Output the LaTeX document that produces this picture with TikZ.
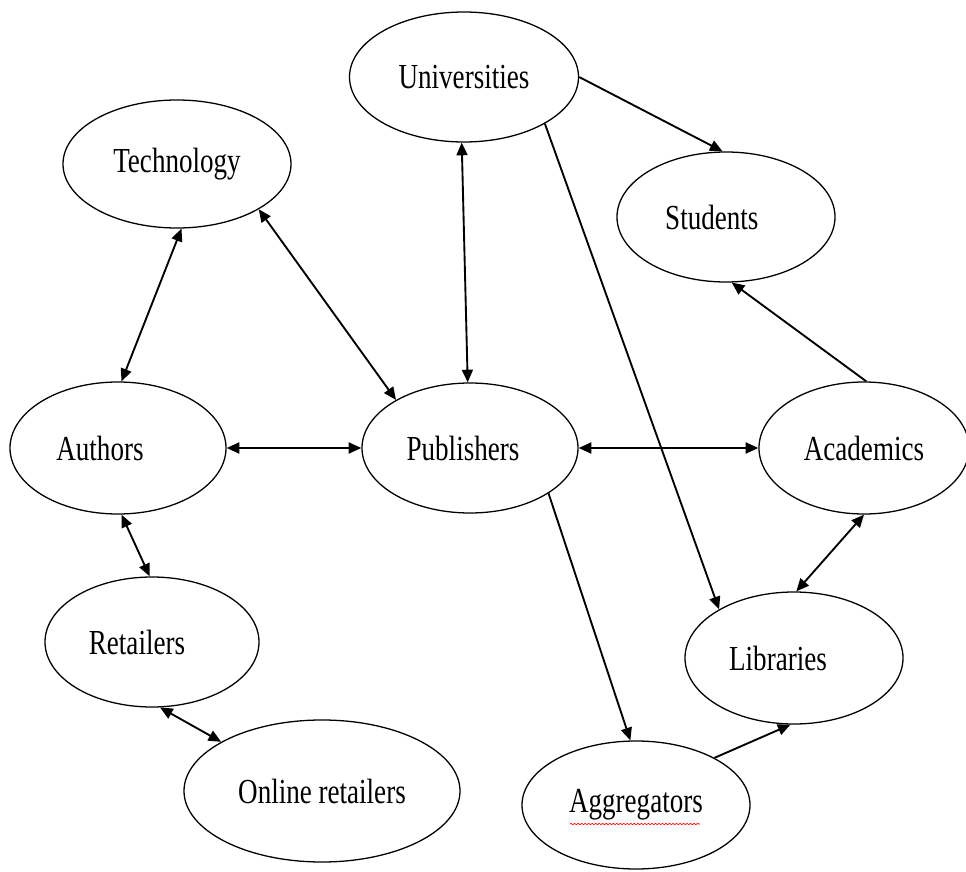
\documentclass[tikz,border=0pt]{standalone}
\usepackage{fontspec}
\setmainfont[FakeStretch=0.77]{Liberation Serif}
\usetikzlibrary{shapes.geometric,arrows.meta,decorations.pathmorphing}
\newcommand{\padr}[1]{\hbox to #1{}}

\begin{document}
\begin{tikzpicture}[x=0.03cm,y=-0.03cm,
    ent/.style={draw, ellipse, line width=1.1pt, inner sep=0pt,
        font=\fontsize{30}{32}\selectfont},
    link/.style={line width=1.6pt, -{Triangle[length=0.38cm,width=0.33cm]}},
    both/.style={line width=1.6pt,
        {Triangle[length=0.38cm,width=0.33cm]}-{Triangle[length=0.38cm,width=0.33cm]}}]
    \useasboundingbox (0,0) rectangle (966,872);

    % top row
    \node[ent, minimum width=6.87cm, minimum height=3.9cm] (univ) at (464,77) {Universities};
    \node[ent, minimum width=6.84cm, minimum height=3.84cm] (tech) at (177,164) {Technology};
    \node[ent, minimum width=6.54cm, minimum height=3.9cm] (stud) at (726,217) {Students\padr{0.85cm}};

    % middle row
    \node[ent, minimum width=6.48cm, minimum height=3.96cm] (auth) at (118,448) {Authors\padr{1.08cm}};
    \node[ent, minimum width=6.48cm, minimum height=3.9cm] (pub) at (470,448) {Publishers\padr{0.42cm}};
    \node[ent, minimum width=6.3cm, minimum height=3.96cm] (acad) at (864,448) {Academics};

    % bottom rows
    \node[ent, minimum width=6.42cm, minimum height=3.9cm] (ret) at (152,642) {Retailers\padr{0.9cm}};
    \node[ent, minimum width=6.54cm, minimum height=3.96cm] (lib) at (794,658) {Libraries\padr{0.96cm}};
    \node[ent, minimum width=8.28cm, minimum height=4.26cm] (online) at (322,791) {Online retailers};
    \node[ent, minimum width=6.84cm, minimum height=3.84cm] (aggr) at (636,805) {Aggregators};
    \draw[red, line width=0.6pt, decorate,
        decoration={snake, amplitude=0.5pt, segment length=3pt}] (570,824) -- (700,824);

    % connectors
    \draw[both] (univ.-92) -- (pub.92);
    \draw[link] (univ.0) -- (stud.93);
    \draw[link] (univ.-30) -- (lib.147);
    \draw[both] (tech.-86) -- (auth.87);
    \draw[both] (tech.-29) -- (pub.147);
    \draw[both] (auth.east) -- (pub.west);
    \draw[both] (pub.east) -- (acad.west);
    \draw[link] (acad.88) -- (stud.-85);
    \draw[both] (acad.-90) -- (lib.88);
    \draw[both] (auth.-87) -- (ret.92);
    \draw[both] (ret.-83) -- (online.154);
    \draw[link] (pub.-30) -- (aggr.95);
    \draw[link] (aggr.31) -- (lib.-93);
\end{tikzpicture}
\end{document}
